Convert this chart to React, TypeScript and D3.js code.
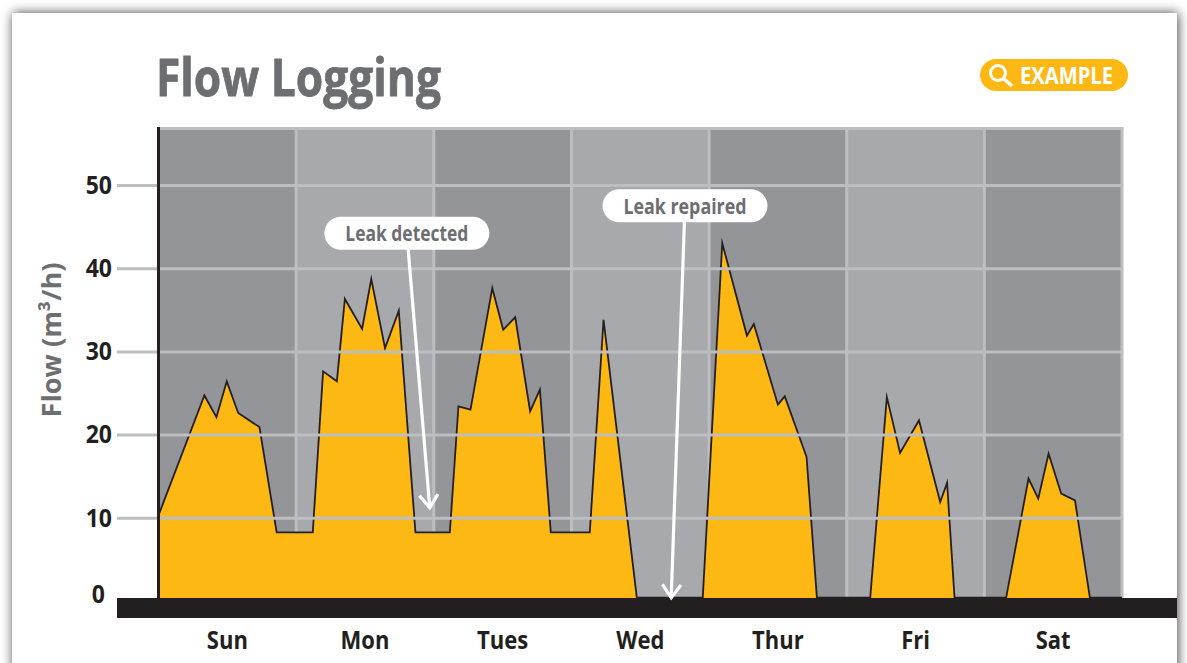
import React, { useEffect, useRef } from 'react';
import { select, scaleLinear, scaleBand, area, line, axisLeft, axisBottom } from 'd3';

const days = ['Sun', 'Mon', 'Tues', 'Wed', 'Thur', 'Fri', 'Sat'];
const yTicks = [0, 10, 20, 30, 40, 50];

// hours since Sunday 00:00
const flowHours = [
  0, 8, 10.1, 11.9, 13.9, 17.6, 20.6, 26.9, 28.7, 31.1, 32.5, 35.5, 37.1, 39.5, 41.9, 44.8, 50.8,
  52.3, 54.4, 58.2, 60.1, 62.2, 64.8, 66.5, 68.4, 75.2, 77.6, 83.4, 94.9, 98.3, 102.6, 103.8, 108,
  109.2, 111.5, 113, 114.8, 124.1, 127, 129.3, 132.6, 136.3, 137.5, 138.8, 147.8, 151.7, 153.4,
  155.2, 157.4, 159.8, 162.4, 168,
];
const flowValues = [
  10.3, 24.7, 22.1, 26.4, 22.6, 20.9, 8.25, 8.25, 27.6, 26.4, 36.3, 32.7, 38.7, 30.4, 34.9, 8.25, 8.25,
  23.4, 23, 37.6, 32.6, 34.1, 22.8, 25.4, 8.25, 8.25, 33.8, 0.4, 0.4, 43, 31.9, 33.3, 23.6,
  24.6, 20.2, 17.3, 0.4, 0.4, 24.5, 17.8, 21.7, 11.9, 14.2, 0.4, 0.4, 14.7, 12.3,
  17.7, 12.9, 12.1, 0.4, 0.4,
];

const noteLabels = ['Leak detected', 'Leak repaired'];
const noteHours = [43.3, 91.8];
const noteValues = [44.2, 47.5];
const noteTipHours = [47.3, 89.4];
const noteTipValues = [11.2, 0.4];

const FONT = '"Open Sans", sans-serif';
const DARK = '#939598';
const LIGHT = '#a7a9ac';
const GRID = '#bcbec0';
const GOLD = '#fdb813';
const BLACK = '#231f20';
const GRAY = '#6d6e71';

const left = 158.5;
const right = 1122;
const top = 128.5;

const xHour = scaleLinear().domain([0, 168]).range([left, right]);
const xDay = scaleBand().domain(days).range([left, right]);
const y = scaleLinear().domain([0, 50]).range([601, 185]);

const points: [number, number][] = flowHours.map((h, i) => [h, flowValues[i]]);
const areaPath = area<[number, number]>()
  .x((d) => xHour(d[0]))
  .y0(y(0))
  .y1((d) => y(d[1]))(points);
const linePath = line<[number, number]>()
  .x((d) => xHour(d[0]))
  .y((d) => y(d[1]))(points);

function arrowHead(i: number) {
  const tx = xHour(noteTipHours[i]);
  const ty = y(noteTipValues[i]);
  const a = Math.atan2(ty - y(noteValues[i]), tx - xHour(noteHours[i]));
  const wing = (da: number) => `${tx - 16 * Math.cos(a + da)},${ty - 16 * Math.sin(a + da)}`;
  return `${wing(0.62)} ${tx},${ty} ${wing(-0.62)}`;
}

// the original face is condensed, so squeeze the axis labels a bit
function condense(sel: any, k: number) {
  sel.each(function (this: SVGTextElement) {
    this.setAttribute('textLength', String(this.getComputedTextLength() * k));
    this.setAttribute('lengthAdjust', 'spacingAndGlyphs');
  });
}

export default function App() {
  const yAxisRef = useRef<SVGGElement>(null);
  const xAxisRef = useRef<SVGGElement>(null);

  useEffect(() => {
    const yAxis = axisLeft(y).tickValues(yTicks).tickSize(right - 117).tickPadding(5);
    const yg = select(yAxisRef.current!).call(yAxis as any);
    yg.select('.domain').remove();
    yg.selectAll('line').attr('stroke', GRID).attr('stroke-width', 3);
    yg.selectAll('text')
      .attr('font-family', FONT)
      .attr('font-weight', 700)
      .attr('font-size', 25)
      .attr('fill', BLACK)
      .attr('dx', (d: any) => (d === 0 ? -7 : 0))
      .attr('dy', (d: any) => (d === 0 ? 1 : '0.33em'))
      .call(condense, 0.92);

    const xAxis = axisBottom(xDay).tickSize(0).tickPadding(13);
    const xg = select(xAxisRef.current!).call(xAxis as any);
    xg.select('.domain').remove();
    xg.selectAll('text')
      .attr('font-family', FONT)
      .attr('font-weight', 700)
      .attr('font-size', 25)
      .attr('fill', BLACK)
      .call(condense, 0.88);
  }, []);

  return (
    <svg
      width={1187}
      height={663}
      viewBox="0 0 1187 663"
      style={{ position: 'absolute', left: 0, top: 0, display: 'block' }}
    >
      <defs>
        <filter id="card" x="-5%" y="-5%" width="110%" height="115%">
          <feDropShadow dx="1" dy="0" stdDeviation="6" floodColor="#000" floodOpacity="0.75" />
        </filter>
      </defs>

      <rect x={12} y={13} width={1165} height={700} fill="#fff" filter="url(#card)" />

      <text
        x={156}
        y={96}
        fontFamily={FONT}
        fontWeight={700}
        fontSize={52}
        fill={GRAY}
        stroke={GRAY}
        strokeWidth={0.8}
        textLength={285}
        lengthAdjust="spacingAndGlyphs"
      >
        Flow Logging
      </text>

      {/* example badge */}
      <rect x={980} y={59} width={148} height={32} rx={16} fill={GOLD} />
      <circle cx={998} cy={73} r={7.5} fill="none" stroke="#fff" strokeWidth={3} />
      <line x1={1003.5} y1={78.5} x2={1012} y2={86} stroke="#fff" strokeWidth={3.5} />
      <text
        x={1020}
        y={83.5}
        fontFamily={FONT}
        fontWeight={700}
        fontSize={23}
        fill="#fff"
        textLength={93}
        lengthAdjust="spacingAndGlyphs"
      >
        EXAMPLE
      </text>

      {days.map((d, i) => (
        <rect
          key={d}
          x={xDay(d)}
          y={top}
          width={xDay.bandwidth()}
          height={y(0) - top}
          fill={i % 2 === 0 ? DARK : LIGHT}
        />
      ))}
      {days.slice(1).map((d) => (
        <line key={d} x1={xDay(d)} x2={xDay(d)} y1={top} y2={y(0)} stroke={GRID} strokeWidth={3} />
      ))}
      <line x1={left} x2={right + 1.5} y1={top} y2={top} stroke={GRID} strokeWidth={3} />
      <line x1={right} x2={right} y1={top} y2={y(0)} stroke={GRID} strokeWidth={3} />

      <path d={areaPath!} fill={GOLD} />
      <path d={linePath!} fill="none" stroke={BLACK} strokeWidth={1.8} strokeLinejoin="miter" strokeMiterlimit={10} />

      <g ref={yAxisRef} transform={`translate(${right},0)`} />

      <line x1={left} x2={left} y1={top - 1.5} y2={y(0)} stroke={BLACK} strokeWidth={3} />
      <rect x={117} y={598} width={1060} height={20} fill={BLACK} />
      <g ref={xAxisRef} transform="translate(0,618)" />

      <text
        transform="translate(61,340) rotate(-90)"
        textAnchor="middle"
        fontFamily={FONT}
        fontWeight={700}
        fontSize={27}
        fill={GRAY}
        textLength={155}
        lengthAdjust="spacingAndGlyphs"
      >
        Flow (m³/h)
      </text>

      {noteLabels.map((label, i) => (
        <g key={label}>
          <line
            x1={xHour(noteHours[i])}
            y1={y(noteValues[i])}
            x2={xHour(noteTipHours[i])}
            y2={y(noteTipValues[i])}
            stroke="#fff"
            strokeWidth={3.2}
          />
          <polyline points={arrowHead(i)} fill="none" stroke="#fff" strokeWidth={3.2} />
          <rect
            x={xHour(noteHours[i]) - 82.5}
            y={y(noteValues[i]) - 16.5}
            width={165}
            height={33}
            rx={16.5}
            fill="#fff"
          />
          <text
            x={xHour(noteHours[i])}
            y={y(noteValues[i]) + 8}
            textAnchor="middle"
            fontFamily={FONT}
            fontWeight={700}
            fontSize={21}
            fill={GRAY}
            textLength={123}
            lengthAdjust="spacingAndGlyphs"
          >
            {label}
          </text>
        </g>
      ))}
    </svg>
  );
}
